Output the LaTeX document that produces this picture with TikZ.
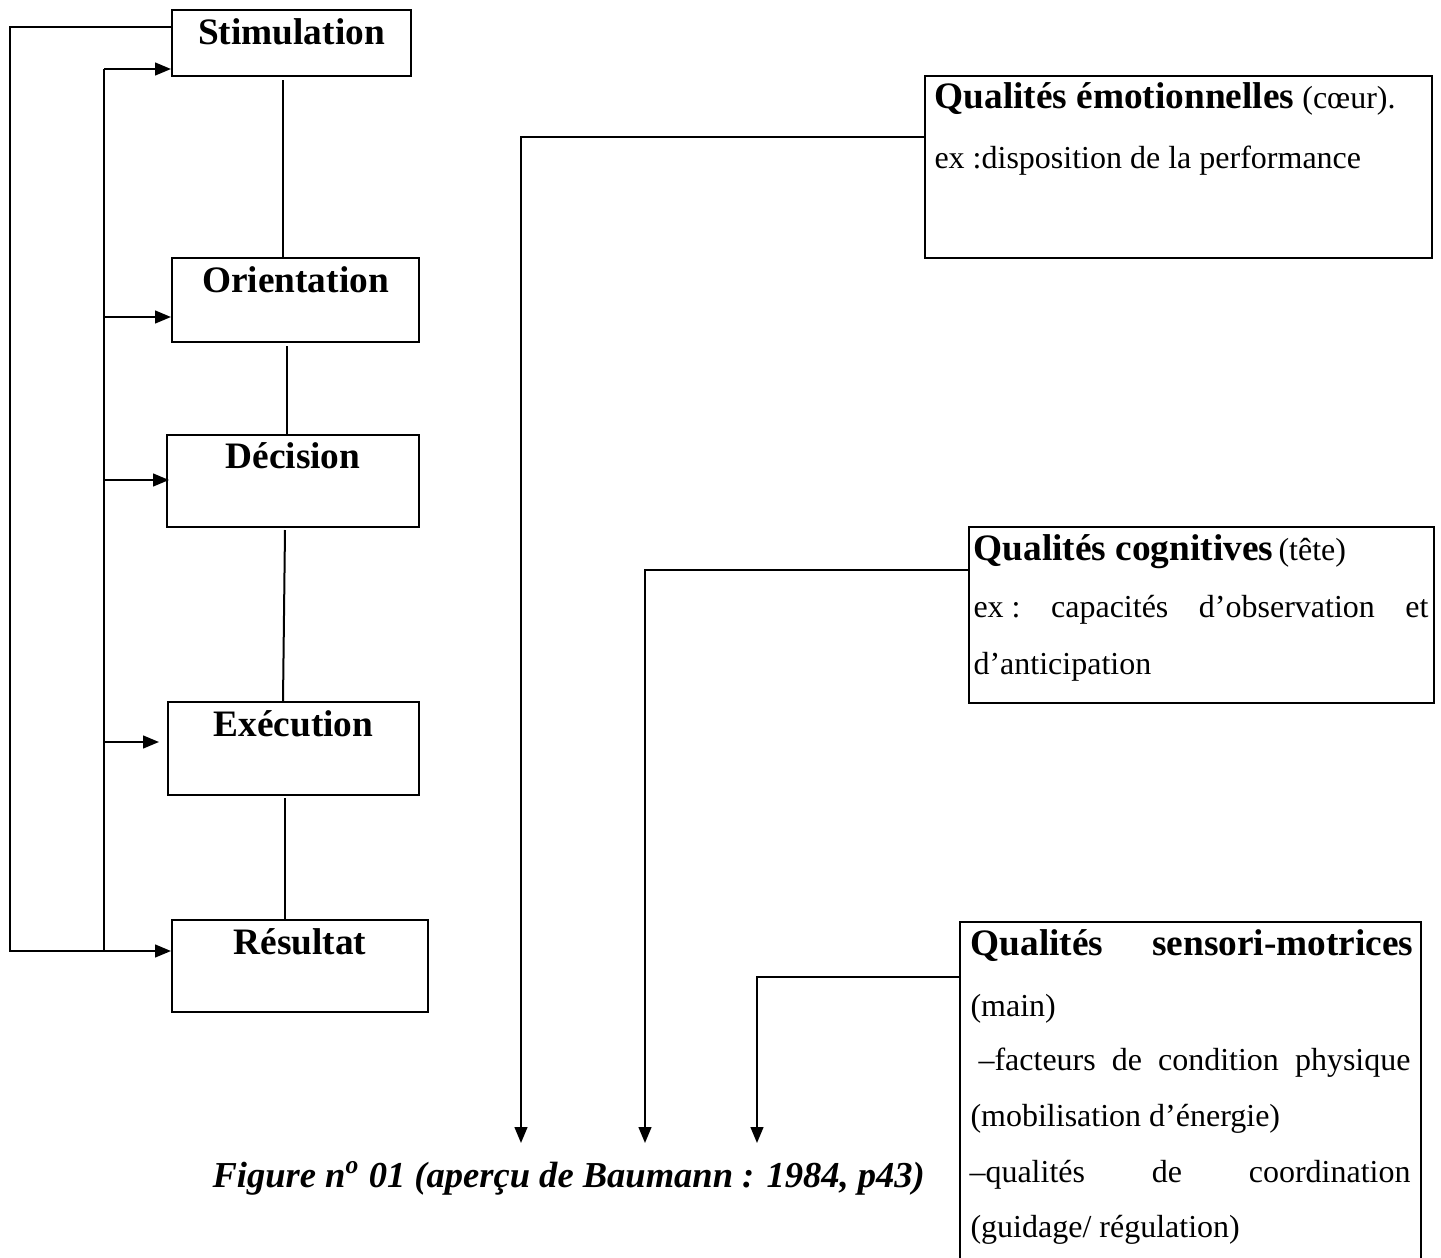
\documentclass[tikz,border=0pt]{standalone}
\usepackage{fontspec}
\setmainfont{Liberation Serif}
\usetikzlibrary{arrows.meta,calc,fit}
\newcommand{\rmtwelve}{\fontsize{12}{14}\selectfont\mdseries}
\begin{document}
\begin{tikzpicture}[x=0.375pt,y=-0.375pt,
  box/.style={draw, line width=0.75pt, inner sep=0pt},
  ln/.style={line width=0.75pt},
  arr/.style={line width=0.75pt, -{Triangle[length=6pt,width=4.8pt]}},
  hd/.style={font=\fontsize{14}{16}\selectfont\bfseries, inner sep=0pt},
  tx/.style={font=\fontsize{12}{14}\selectfont, inner sep=0pt}]
\useasboundingbox (0,0) rectangle (1441,1258);
\clip (0,0) rectangle (1441,1258);

% left column boxes
\node[box, fit={(172,10) (411,76)}] (stim) {};
\node[box, fit={(172,258) (419,342)}] (orie) {};
\node[box, fit={(167,435) (419,527)}] (deci) {};
\node[box, fit={(168,702) (419,795)}] (exec) {};
\node[box, fit={(172,920) (428,1012)}] (resu) {};

\node[hd, anchor=base] (stimt) at ($(stim.north)+(0,35)$) {Stimulation};
\node[hd, anchor=base] (oriet) at ($(orie.north)+(0,35)$) {Orientation};
\node[hd, anchor=base] (decit) at ($(deci.north)+(0,34)$) {Décision};
\node[hd, anchor=base] (exect) at ($(exec.north)+(0,35)$) {Exécution};
\node[hd, anchor=base] (resut) at ($(resu.north)+(0,35)$) {Résultat};

% vertical links
\coordinate (v1) at (283,0);
\coordinate (v2) at (287,0);
\coordinate (v3) at (285,0);
\coordinate (v3b) at (283,0);
\coordinate (v4) at (285,0);
\draw[ln] ($(stim.south -| v1)+(0,3)$) -- (orie.north -| v1);
\draw[ln] ($(orie.south -| v2)+(0,3)$) -- (deci.north -| v2);
\draw[ln] ($(deci.south -| v3)+(0,2)$) -- (exec.north -| v3b);
\draw[ln] ($(exec.south -| v4)+(0,2)$) -- (resu.north -| v4);

% feedback loops
\coordinate (L) at (10,500);
\coordinate (M) at (104,500);
\coordinate (t1) at ($(stim.north west)+(0,60)$);
\coordinate (t2) at ($(orie.north west)+(0,60)$);
\coordinate (t3) at ($(deci.north west)+(3,46)$);
\coordinate (t4) at ($(exec.north west)+(-8,41)$);
\coordinate (t5) at ($(resu.north west)+(0,32)$);
\draw[arr] ($(stim.north west)+(0,18)$) -| (L) |- (t5);
\draw[ln] (t1 -| M) -- (t5 -| M);
\foreach \t in {t1,t2,t3,t4} \draw[arr] (\t -| M) -- (\t);

% right boxes
\node[box, fit={(925,76) (1432,258)}] (emo) {};
\node[box, fit={(969,527) (1434,703)}] (cog) {};
\node[box, fit={(960,922) (1421,1280)}] (sen) {};

\coordinate (a1) at (521,1143);
\coordinate (a2) at (645,1143);
\coordinate (a3) at (757,1143);
\draw[arr] ($(emo.north west)+(0,62)$) -| (a1);
\draw[arr] ($(cog.north west)+(0,44)$) -| (a2);
\draw[arr] ($(sen.north west)+(0,56)$) -| (a3);

% texts
\node[hd, anchor=base west] (emo1) at (934,108) {Qualités émotionnelles\rmtwelve\ (cœur).};
\node[tx, anchor=base west] (emo2) at (934,168) {ex :disposition de la performance};

\node[hd, anchor=base west] (cog1) at (973,560) {Qualités cognitives\rmtwelve\hspace{2pt}(tête)};
\node[tx, anchor=base west] (cog2) at (973,617) {\hbox to 170.6pt{ex~:\hfill capacités\hfill d’observation\hfill et}};
\node[tx, anchor=base west] (cog3) at (973,674) {d’anticipation};

\node[hd, anchor=base west] (sen1) at (970,955) {\hbox to 166.1pt{Qualités\hfill sensori-motrices}};
\node[tx, anchor=base west] (sen2) at (970,1016) {(main)};
\node[tx, anchor=base west] (sen3) at (978,1070) {\hbox to 162pt{–facteurs\hfill de\hfill condition\hfill physique}};
\node[tx, anchor=base west] (sen4) at (970,1126) {(mobilisation d’énergie)};
\node[tx, anchor=base west] (sen5) at (969,1182) {\hbox to 165.4pt{–qualités\hfill de\hfill coordination}};
\node[tx, anchor=base west] (sen6) at (970,1237) {(guidage/ régulation)};

\node[font=\fontsize{13.7}{16}\selectfont\bfseries\itshape, inner sep=0pt, anchor=base west] (cap) at (212,1187) {Figure n\textsuperscript{o} 01 (aperçu de Baumann : 1984, p43)};
\end{tikzpicture}
\end{document}
